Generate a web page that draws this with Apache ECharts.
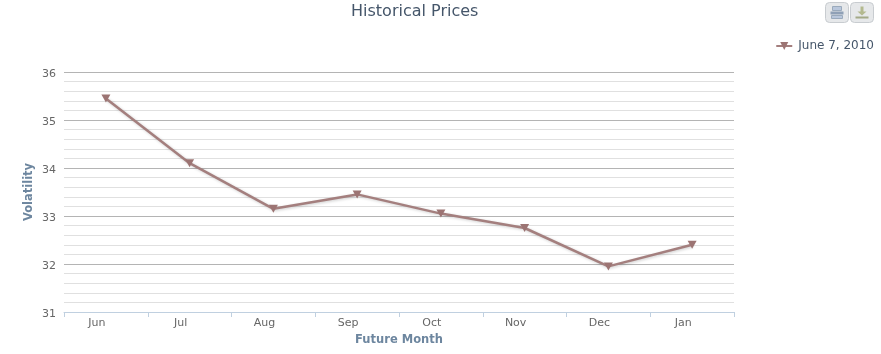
<!DOCTYPE html>
<html><head><meta charset="utf-8">
<style>html,body{margin:0;padding:0;background:#fff}#c{width:881px;height:354px}</style>
<script src="https://cdn.jsdelivr.net/npm/echarts@6/dist/echarts.min.js"></script>
</head><body><div id="c"></div>
<script>
const categories = ['Jun','Jul','Aug','Sep','Oct','Nov','Dec','Jan'];
const volatility = [35.45,34.1,33.15,33.45,33.05,32.75,31.95,32.4];
const seriesName = 'June 7, 2010';
const FONT = '"DejaVu Sans", Verdana, sans-serif';
const LINE = '#a47f7e';
const TRI = 'path://M0,0L10,0L5,9Z';
const chart = echarts.init(document.getElementById('c'), null, {renderer:'canvas'});
function button(x, icon, iconColor){
  return {type:'group', left:x, top:2, children:[
    {type:'rect', shape:{x:0,y:0,width:23,height:20,r:4}, style:{fill:'#e6e8ea',stroke:'#c8ccd0',lineWidth:1}},
    ...icon(iconColor)
  ]};
}
const printIcon = c => [
  {type:'rect', shape:{x:7,y:4,width:9,height:4}, style:{fill:c,stroke:'#9aaabc',lineWidth:1}},
  {type:'rect', shape:{x:5,y:9,width:13,height:3}, style:{fill:'#8fa0b6'}},
  {type:'rect', shape:{x:6,y:13,width:11,height:3}, style:{fill:c,stroke:'#9aaabc',lineWidth:1}}
];
const dlIcon = c => [
  {type:'polygon', shape:{points:[[10,4],[13,4],[13,9],[16,9],[11.5,13],[7,9],[10,9]]}, style:{fill:c}},
  {type:'rect', shape:{x:5,y:14,width:13,height:2}, style:{fill:'#a3a987'}}
];
chart.setOption({
  animation:false,
  backgroundColor:'#fff',
  title:{text:'Historical Prices', left:351, top:4, padding:0,
    textStyle:{fontFamily:FONT,fontSize:16,fontWeight:'normal',color:'#45566a'}},
  legend:{right:7, top:40, padding:0, itemWidth:16, itemHeight:10, itemGap:0,
    textStyle:{fontFamily:FONT,fontSize:12,color:'#45566a',padding:[0,0,0,1]},
    data:[seriesName]},
  grid:{left:64, right:147, top:72, bottom:42},
  xAxis:{type:'category', data:categories, boundaryGap:true,
    name:'Future Month', nameLocation:'middle', nameGap:22,
    nameTextStyle:{fontFamily:FONT,fontSize:11.5,fontWeight:'bold',color:'#6d869f'},
    axisLine:{lineStyle:{color:'#c0d0e0',width:1}},
    axisTick:{show:true,length:5,lineStyle:{color:'#c0d0e0'},alignWithLabel:false},
    axisLabel:{fontFamily:FONT,fontSize:11,color:'#666',margin:6,padding:[0,18,0,0],interval:0},
    splitLine:{show:false}},
  yAxis:{type:'value', min:31, max:36, interval:1,
    name:'Volatility', nameLocation:'middle', nameGap:29, nameRotate:90, nameMoveOverlap:false,
    nameTextStyle:{fontFamily:FONT,fontSize:11.5,fontWeight:'bold',color:'#6d869f'},
    axisLine:{show:false}, axisTick:{show:false},
    axisLabel:{fontFamily:FONT,fontSize:11,color:'#666',margin:8,verticalAlign:'top',lineHeight:4},
    splitLine:{show:true,lineStyle:{color:'#b4b4b4',width:1}},
    minorTick:{show:false,splitNumber:5},
    minorSplitLine:{show:true,lineStyle:{color:'#e0e0e0',width:1}}},
  series:[{name:seriesName,type:'line',data:volatility,
    symbol:TRI,symbolSize:[9,8],showSymbol:true,
    itemStyle:{color:'#9c7473'},
    lineStyle:{color:LINE,width:2.5,shadowColor:'rgba(0,0,0,0.2)',shadowBlur:3,shadowOffsetX:1,shadowOffsetY:1}}],
  graphic:[button(825,printIcon,'#b9c7dc'),button(850,dlIcon,'#b3b98f')]
});
</script></body></html>
